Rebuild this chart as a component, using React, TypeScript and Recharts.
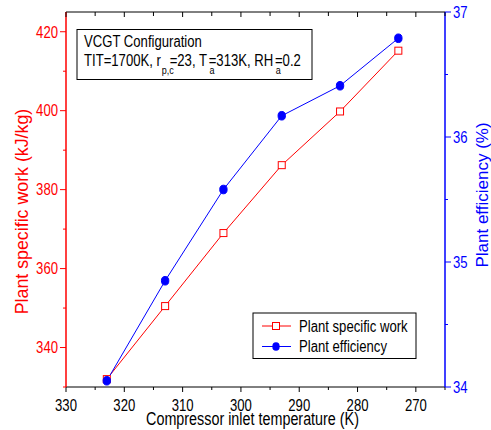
import React from "react";
import { LineChart, Line, XAxis, YAxis } from "recharts";

// compressor inlet temperature (K)
const temps = [323, 313, 303, 293, 283, 273];
// plant specific work (kJ/kg)
const specificWork = [332, 350.5, 369, 386.2, 399.8, 415.2];
// plant efficiency (%)
const efficiency = [34.05, 34.85, 35.58, 36.17, 36.41, 36.79];

const xTicks = [330, 325, 320, 315, 310, 305, 300, 295, 290, 285, 280, 275, 270, 265];
const leftTicks = [330, 340, 350, 360, 370, 380, 390, 400, 410, 420];
const rightTicks = [34, 34.5, 35, 35.5, 36, 36.5, 37];

const RED = "#ff0000";
const BLUE = "#0000ff";
const FONT = "'Liberation Sans', Arial, sans-serif";
const NARROW = 0.82; // the original uses a narrow face, so squeeze the glyphs

const data = temps.map((t, i) => ({ t, work: specificWork[i], eff: efficiency[i] }));

// text squeezed horizontally to look like Arial Narrow
const NText = ({ x, y, rotate = 0, squeeze = NARROW, children, ...rest }: any) => (
  <text
    transform={`translate(${x} ${y}) rotate(${rotate}) scale(${squeeze} 1)`}
    fontFamily={FONT}
    {...rest}
  >
    {children}
  </text>
);

const BottomTick = (p: any) => {
  const v = p.payload.value;
  const major = v % 10 === 0;
  return (
    <g>
      <line x1={p.x} x2={p.x} y1={p.y} y2={p.y + (major ? 5 : 3)} stroke="#000" />
      {major && (
        <NText x={p.x} y={p.y + 24} textAnchor="middle" fontSize={16} fill="#000">
          {v}
        </NText>
      )}
    </g>
  );
};

const TopTick = (p: any) => {
  const v = p.payload.value;
  const major = v % 10 === 0;
  return <line x1={p.x} x2={p.x} y1={p.y} y2={p.y + (major ? 5 : 4)} stroke="#000" />;
};

const LeftTick = (p: any) => {
  const v = p.payload.value;
  const major = v % 20 === 0;
  return (
    <g>
      <line x1={p.x - (major ? 6 : 3)} x2={p.x} y1={p.y} y2={p.y} stroke={RED} />
      {major && (
        <NText x={p.x - 8} y={p.y} dy="0.36em" textAnchor="end" fontSize={16} fill={RED}>
          {v}
        </NText>
      )}
    </g>
  );
};

const RightTick = (p: any) => {
  const v = p.payload.value;
  const major = Number.isInteger(v);
  return (
    <g>
      <line x1={p.x} x2={p.x + (major ? 6 : 3)} y1={p.y} y2={p.y} stroke={BLUE} />
      {major && (
        <NText x={p.x + 8} y={p.y} dy="0.36em" textAnchor="start" fontSize={16} fill={BLUE}>
          {v}
        </NText>
      )}
    </g>
  );
};

const SquareDot = (p: any) => (
  <rect key={`sq-${p.index}`} x={p.cx - 3.5} y={p.cy - 3.5} width={7} height={7} fill="#fff" stroke={RED} strokeWidth={1} />
);

const CircleDot = (p: any) => (
  <ellipse key={`ci-${p.index}`} cx={p.cx} cy={p.cy} rx={3.7} ry={4.3} fill={BLUE} stroke={BLUE} />
);

export default function App() {
  return (
    <div style={{ position: "relative", width: 491, height: 430, fontFamily: FONT, background: "#fff" }}>
      <style>{`body{margin:0}`}</style>
      <LineChart width={491} height={430} data={data} margin={{ top: 0, right: 0, left: 0, bottom: 0 }}>
        <XAxis
          xAxisId="top"
          orientation="top"
          dataKey="t"
          type="number"
          domain={[265, 330]}
          reversed
          allowDataOverflow
          ticks={xTicks}
          interval={0}
          height={12}
          tickSize={0}
          tickMargin={0}
          tickLine={false}
          tick={TopTick}
          axisLine={{ stroke: "#000", strokeWidth: 1 }}
        />
        <XAxis
          xAxisId="bottom"
          orientation="bottom"
          dataKey="t"
          type="number"
          domain={[265, 330]}
          reversed
          allowDataOverflow
          ticks={xTicks}
          interval={0}
          height={43}
          tickSize={0}
          tickMargin={0}
          tickLine={false}
          tick={BottomTick}
          axisLine={{ stroke: "#000", strokeWidth: 1 }}
        />
        <YAxis
          yAxisId="left"
          orientation="left"
          type="number"
          domain={[330, 425]}
          allowDataOverflow
          ticks={leftTicks}
          interval={0}
          width={66}
          tickSize={0}
          tickMargin={0}
          tickLine={false}
          tick={LeftTick}
          axisLine={{ stroke: RED, strokeWidth: 1.5 }}
        />
        <YAxis
          yAxisId="right"
          orientation="right"
          type="number"
          domain={[34, 37]}
          allowDataOverflow
          ticks={rightTicks}
          interval={0}
          width={46}
          tickSize={0}
          tickMargin={0}
          tickLine={false}
          tick={RightTick}
          axisLine={{ stroke: BLUE, strokeWidth: 1.5 }}
        />
        <Line
          xAxisId="bottom"
          yAxisId="left"
          dataKey="work"
          stroke={RED}
          strokeWidth={1}
          dot={SquareDot}
          activeDot={false}
          isAnimationActive={false}
        />
        <Line
          xAxisId="bottom"
          yAxisId="right"
          dataKey="eff"
          stroke={BLUE}
          strokeWidth={1}
          dot={CircleDot}
          activeDot={false}
          isAnimationActive={false}
        />
      </LineChart>
      <svg
        width={491}
        height={430}
        style={{ position: "absolute", left: 0, top: 0, pointerEvents: "none" }}
      >
        {/* annotation box */}
        <rect x={77} y={29.5} width={235} height={50} fill="#fff" stroke="#000" strokeWidth={1} />
        <NText x={84} y={46.5} fontSize={16} fill="#000">VCGT Configuration</NText>
        <NText x={84} y={66} fontSize={16} fill="#000">
          TIT=1700K, r
          <tspan fontSize={11} dy={8} dx={1}>p,c</tspan>
          <tspan dy={-8} dx={-5}>=23, T</tspan>
          <tspan fontSize={11} dy={8} dx={3}>a</tspan>
          <tspan dy={-8} dx={-7}>=313K, RH</tspan>
          <tspan fontSize={11} dy={8} dx={3}>a</tspan>
          <tspan dy={-8} dx={-7}>=0.2</tspan>
        </NText>

        {/* legend */}
        <rect x={253} y={313} width={163} height={45.5} fill="#fff" stroke="#000" strokeWidth={1} />
        <line x1={262} x2={291} y1={326} y2={326} stroke={RED} />
        <rect x={272.5} y={322.5} width={7} height={7} fill="#fff" stroke={RED} />
        <NText x={299} y={326} dy="0.36em" fontSize={16} fill="#000">Plant specific work</NText>
        <line x1={262} x2={291} y1={346.5} y2={346.5} stroke={BLUE} />
        <ellipse cx={276} cy={346.5} rx={3.7} ry={4.3} fill={BLUE} />
        <NText x={299} y={346.5} dy="0.36em" fontSize={16} fill="#000">Plant efficiency</NText>

        {/* axis titles */}
        <NText x={252.5} y={425} textAnchor="middle" fontSize={17.5} fill="#000">
          Compressor inlet temperature (K)
        </NText>
        <NText x={28} y={211.5} rotate={-90} squeeze={1} textAnchor="middle" fontSize={17.8} fill={RED}>
          Plant specific work (kJ/kg)
        </NText>
        <NText x={488} y={195} rotate={-90} squeeze={1} textAnchor="middle" fontSize={17} fill={BLUE}>
          Plant efficiency (%)
        </NText>
      </svg>
    </div>
  );
}
